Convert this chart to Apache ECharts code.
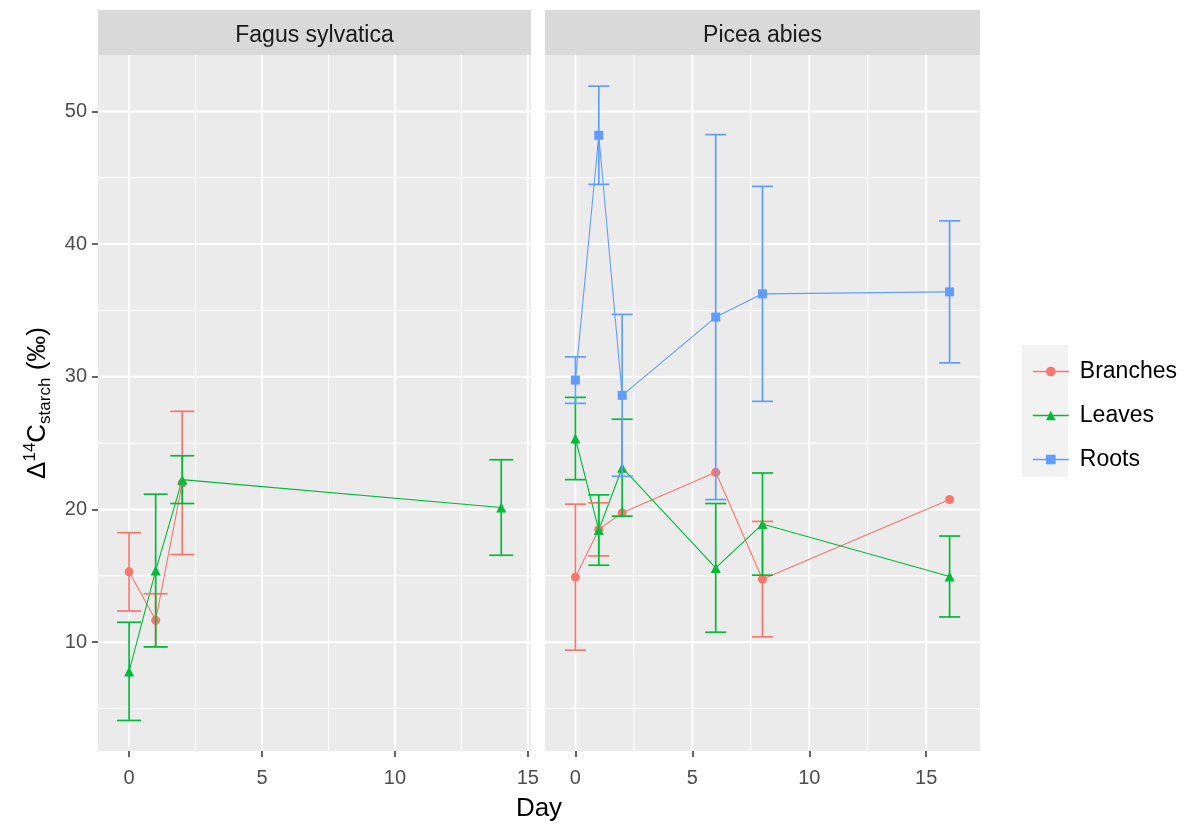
<!DOCTYPE html>
<html>
<head>
<meta charset="utf-8">
<script src="https://cdn.jsdelivr.net/npm/echarts@6/dist/echarts.min.js"></script>
<style>
html,body{margin:0;padding:0;background:#fff;}
#chart{width:1189px;height:825px;}
</style>
</head>
<body>
<div id="chart"></div>
<script>
// ---- data ----
const panels = ['Fagus sylvatica', 'Picea abies'];
const groups = ['Branches', 'Leaves', 'Roots'];
const colors = ['#F8766D', '#00BA38', '#619CFF'];
const symbols = ['circle', 'triangle', 'rect'];

const fagusBranchesDay = [0, 1, 2];
const fagusBranchesMean = [15.3, 11.65, 22.0];
const fagusBranchesErr = [2.95, 2.0, 5.4];

const fagusLeavesDay = [0, 1, 2, 14];
const fagusLeavesMean = [7.8, 15.4, 22.25, 20.15];
const fagusLeavesErr = [3.7, 5.75, 1.8, 3.6];

const piceaBranchesDay = [0, 1, 2, 6, 8, 16];
const piceaBranchesMean = [14.9, 18.5, 19.75, 22.8, 14.75, 20.75];
const piceaBranchesErr = [5.5, 2.0, null, null, 4.35, null];

const piceaLeavesDay = [0, 1, 2, 6, 8, 16];
const piceaLeavesMean = [25.35, 18.45, 23.15, 15.6, 18.9, 14.95];
const piceaLeavesErr = [3.1, 2.65, 3.65, 4.85, 3.85, 3.05];

const piceaRootsDay = [0, 1, 2, 6, 8, 16];
const piceaRootsMean = [29.75, 48.2, 28.6, 34.5, 36.25, 36.4];
const piceaRootsErr = [1.75, 3.7, 6.1, 13.75, 8.1, 5.35];

const xTicks = [0, 5, 10, 15];
const xMinor = [2.5, 7.5, 12.5];
const yTicks = [10, 20, 30, 40, 50];
const yMinor = [5, 15, 25, 35, 45];

// ---- helpers ----
const CAP = 0.45; // half-width of error bar caps in day units
const FONT = '"Liberation Sans", Arial, sans-serif';

function ptData(days, mean) { return days.map((d, i) => [d, mean[i]]); }
function errData(days, mean, err) {
  return days.map((d, i) => err[i] == null ? null : [d, mean[i] - err[i], mean[i] + err[i]]).filter(Boolean);
}

const panelData = [
  [
    { g: 0, days: fagusBranchesDay, mean: fagusBranchesMean, err: fagusBranchesErr },
    { g: 1, days: fagusLeavesDay, mean: fagusLeavesMean, err: fagusLeavesErr }
  ],
  [
    { g: 0, days: piceaBranchesDay, mean: piceaBranchesMean, err: piceaBranchesErr },
    { g: 1, days: piceaLeavesDay, mean: piceaLeavesMean, err: piceaLeavesErr },
    { g: 2, days: piceaRootsDay, mean: piceaRootsMean, err: piceaRootsErr }
  ]
];

const xRanges = [[-1.17, 15.12], [-1.3, 17.3]];
const yRange = [1.8, 54.25];

const grids = [
  { left: 98, top: 55, width: 433, height: 696 },
  { left: 545, top: 55, width: 435, height: 696 }
];

function gridRender(params, api) {
  const cs = params.coordSys;
  const children = [];
  function vline(v, w) {
    const px = api.coord([v, yRange[0]])[0];
    if (px > cs.x && px < cs.x + cs.width)
      children.push({ type: 'line', shape: { x1: px, y1: cs.y, x2: px, y2: cs.y + cs.height }, style: { stroke: '#FFFFFF', lineWidth: w } });
  }
  function hline(v, w) {
    const py = api.coord([0, v])[1];
    if (py > cs.y && py < cs.y + cs.height)
      children.push({ type: 'line', shape: { x1: cs.x, y1: py, x2: cs.x + cs.width, y2: py }, style: { stroke: '#FFFFFF', lineWidth: w } });
  }
  xMinor.forEach(v => vline(v, 1));
  yMinor.forEach(v => hline(v, 1));
  xTicks.forEach(v => vline(v, 2));
  yTicks.forEach(v => hline(v, 2));
  return { type: 'group', children: children };
}

function errRender(color) {
  return function (params, api) {
    const x = api.value(0), lo = api.value(1), hi = api.value(2);
    const top = api.coord([x, hi]);
    const bot = api.coord([x, lo]);
    const l = api.coord([x - CAP, hi])[0];
    const r = api.coord([x + CAP, hi])[0];
    const st = { stroke: color, lineWidth: 1.7, fill: null };
    return {
      type: 'group',
      children: [
        { type: 'line', shape: { x1: top[0], y1: top[1], x2: bot[0], y2: bot[1] }, style: st },
        { type: 'line', shape: { x1: l, y1: top[1], x2: r, y2: top[1] }, style: st },
        { type: 'line', shape: { x1: l, y1: bot[1], x2: r, y2: bot[1] }, style: st }
      ]
    };
  };
}

const series = [];
panels.forEach((p, pi) => {
  series.push({
    type: 'custom', name: 'grid' + pi, xAxisIndex: pi, yAxisIndex: pi, silent: true, z: 1,
    data: [[0, 10]], renderItem: gridRender, clip: false
  });
});
panelData.forEach((list, pi) => {
  list.forEach(s => {
    series.push({
      type: 'line', name: groups[s.g], xAxisIndex: pi, yAxisIndex: pi, z: 3,
      data: ptData(s.days, s.mean),
      symbol: symbols[s.g], symbolSize: s.g === 1 ? 10 : 9, showSymbol: true,
      itemStyle: { color: colors[s.g] },
      lineStyle: { color: colors[s.g], width: 1.1 },
      emphasis: { disabled: true }
    });
    series.push({
      type: 'custom', name: groups[s.g] + ' error', xAxisIndex: pi, yAxisIndex: pi, z: 4,
      data: errData(s.days, s.mean, s.err),
      encode: { x: 0, y: [1, 2] },
      renderItem: errRender(colors[s.g])
    });
  });
});

const tickLabel = { color: '#4D4D4D', fontSize: 20, fontFamily: FONT };

const option = {
  animation: false,
  backgroundColor: '#FFFFFF',
  grid: grids.map(g => Object.assign({ show: true, backgroundColor: '#EBEBEB', borderWidth: 0 }, g)),
  xAxis: [0, 1].map(i => ({
    type: 'value', gridIndex: i, min: xRanges[i][0], max: xRanges[i][1],
    axisLine: { show: false, onZero: false },
    axisTick: { show: true, length: 6, lineStyle: { color: '#333333', width: 1.5 }, customValues: xTicks },
    axisLabel: Object.assign({ margin: 17, customValues: xTicks }, tickLabel),
    splitLine: { show: false }
  })),
  yAxis: [0, 1].map(i => ({
    type: 'value', gridIndex: i, min: yRange[0], max: yRange[1],
    axisLine: { show: false, onZero: false },
    axisTick: { show: i === 0, length: 6, lineStyle: { color: '#333333', width: 1.5 }, customValues: yTicks },
    axisLabel: Object.assign({ show: i === 0, margin: 11, customValues: yTicks }, tickLabel),
    splitLine: { show: false },
    name: i === 0 ? '{d|Δ}{sup|14}{d|C}{sub|starch}{d| (‰)}' : '',
    nameLocation: 'middle',
    nameRotate: 90,
    nameGap: 44,
    nameMoveOverlap: false,
    nameTextStyle: {
      fontFamily: FONT, color: '#000000',
      rich: {
        d: { fontSize: 26, fontFamily: FONT, color: '#000', lineHeight: 32, verticalAlign: 'middle' },
        sup: { fontSize: 17, fontFamily: FONT, color: '#000', lineHeight: 32, verticalAlign: 'top' },
        sub: { fontSize: 17, fontFamily: FONT, color: '#000', lineHeight: 32, verticalAlign: 'bottom' }
      }
    }
  })),
  legend: {
    data: groups,
    orient: 'vertical',
    left: 1027,
    top: 355,
    itemWidth: 36,
    itemHeight: 12,
    itemGap: 21,
    selectedMode: false,
    lineStyle: { width: 1.6 },
    textStyle: { fontSize: 23, fontFamily: FONT, color: '#000000', lineHeight: 23, padding: [0, 0, 0, 6] }
  },
  graphic: [
    { type: 'rect', z: 0, shape: { x: 1022, y: 345, width: 46, height: 132 }, style: { fill: '#F2F2F2' } },
    { type: 'rect', shape: { x: 98, y: 10, width: 433, height: 45 }, style: { fill: '#D9D9D9' } },
    { type: 'rect', shape: { x: 545, y: 10, width: 435, height: 45 }, style: { fill: '#D9D9D9' } },
    { type: 'text', x: 314.5, y: 36, style: { text: panels[0], fill: '#1A1A1A', fontSize: 23, fontFamily: FONT, align: 'center', verticalAlign: 'middle' } },
    { type: 'text', x: 762.5, y: 36, style: { text: panels[1], fill: '#1A1A1A', fontSize: 23, fontFamily: FONT, align: 'center', verticalAlign: 'middle' } },
    { type: 'text', x: 539, y: 809, style: { text: 'Day', fill: '#000000', fontSize: 26, fontFamily: FONT, align: 'center', verticalAlign: 'middle' } }
  ],
  series: series
};

const chart = echarts.init(document.getElementById('chart'), null, { renderer: 'canvas' });
chart.setOption(option);
</script>
</body>
</html>
